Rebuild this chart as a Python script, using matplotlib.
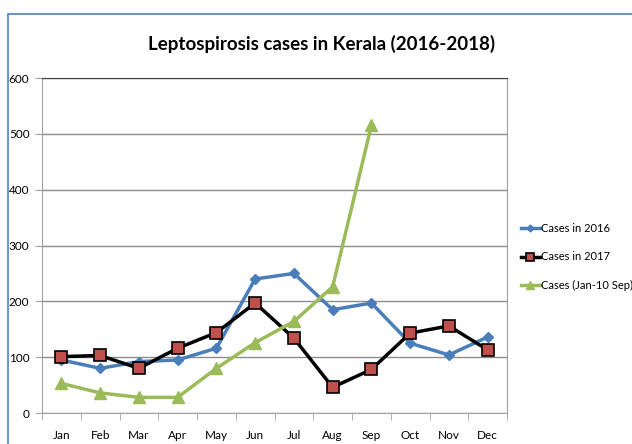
import matplotlib.pyplot as plt
from matplotlib.patches import Rectangle

months = ['Jan', 'Feb', 'Mar', 'Apr', 'May', 'Jun', 'Jul', 'Aug', 'Sep', 'Oct', 'Nov', 'Dec']
cases_2016 = [95, 80, 92, 95, 116, 240, 250, 185, 197, 125, 104, 136]
cases_2017 = [101, 103, 80, 116, 144, 197, 134, 46, 78, 143, 156, 113]
months_2018 = months[:9]
cases_2018 = [53, 36, 28, 28, 80, 126, 164, 226, 515]

plt.rcParams['font.family'] = ['Lato', 'DejaVu Sans']

fig = plt.figure(figsize=(6.32, 4.44), dpi=100)
ax = fig.add_axes([42 / 632, 1 - 413 / 444, 465 / 632, 335 / 444])

# outer chart border
fig.patches.append(Rectangle((8 / 632, -0.05), 1.0, 1 - 14 / 444 + 0.05,
                             transform=fig.transFigure, fill=False,
                             edgecolor='#4F81BD', linewidth=1.2))

x = list(range(len(months)))
ax.plot(x, cases_2016, color='#4A7EBB', lw=2.5, marker='D', ms=5,
        mfc='#4A7EBB', mec='#4A7EBB', label='Cases in 2016')
ax.plot(x, cases_2017, color='black', lw=2.5, marker='s', ms=8,
        mfc='#C0504D', mec='black', mew=1.2, label='Cases in 2017')
ax.plot(x[:len(cases_2018)], cases_2018, color='#9BBB59', lw=2.5, marker='^', ms=9,
        mfc='#9BBB59', mec='#9BBB59', label='Cases (Jan-10 Sep)')

ax.set_xlim(-0.5, 11.5)
ax.set_ylim(0, 600)
ax.set_yticks(range(0, 601, 100))
ax.set_xticks(x)
ax.set_xticklabels(months)
ax.set_xticks([i - 0.5 for i in range(13)], minor=True)
ax.tick_params(axis='x', which='major', length=0, pad=12, labelsize=8.5)
ax.tick_params(axis='x', which='minor', length=5, color='#A0A0A0', direction='out')
ax.tick_params(axis='y', length=5, color='#A0A0A0', labelsize=8.5, pad=4)

ax.grid(axis='y', color='#8C8C8C', lw=1)
ax.set_axisbelow(True)
for s in ['left', 'bottom', 'right']:
    ax.spines[s].set_color('#A0A0A0')
ax.spines['top'].set_color('#404040')

fig.text(322 / 632, 1 - 44 / 444, 'Leptospirosis cases in Kerala (2016-2018)',
         ha='center', va='center', fontsize=13.5, fontweight='bold')

fig.legend(handles=ax.get_lines(), loc='center left',
           bbox_to_anchor=(521 / 632, 1 - 257 / 444), frameon=False,
           borderpad=0, borderaxespad=0,
           fontsize=8, handlelength=1.7, handletextpad=0.1, labelspacing=1.6,
           markerscale=0.7)

fig.savefig('out.png', dpi=100)
